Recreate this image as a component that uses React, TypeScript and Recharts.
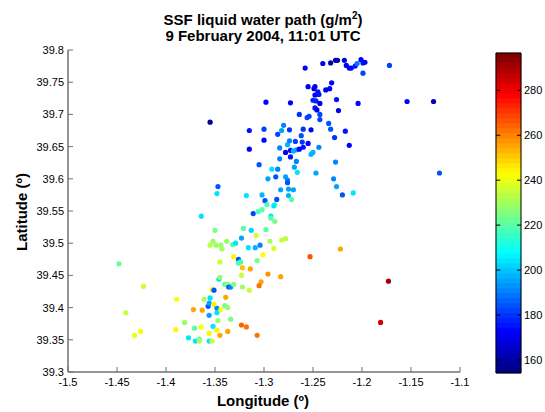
import React from 'react';
import {
  ScatterChart,
  Scatter,
  ComposedChart,
  XAxis,
  YAxis,
  ReferenceArea,
  ReferenceLine,
} from 'recharts';

// Longitude / latitude / LWP (g/m2) of each SSF footprint
const LON = [
  -1.258, -1.240, -1.232, -1.227, -1.225, -1.218, -1.216, -1.213, -1.211, -1.207,
  -1.205, -1.201, -1.199, -1.197, -1.199, -1.172, -1.255, -1.249, -1.248, -1.231,
  -1.237, -1.233, -1.248, -1.245, -1.244, -1.250, -1.247, -1.243, -1.248, -1.246,
  -1.226, -1.224, -1.204, -1.298, -1.273, -1.264, -1.256, -1.254, -1.243, -1.243,
  -1.234, -1.232, -1.280, -1.282, -1.300, -1.274, -1.260, -1.252, -1.217, -1.355,
  -1.154, -1.127, -1.121, -1.213, -1.228, -1.227, -1.229, -1.226, -1.220, -1.209,
  -1.247, -1.244, -1.252, -1.250,
  -1.315, -1.286, -1.262, -1.300, -1.315, -1.284, -1.276, -1.274, -1.268, -1.261,
  -1.260, -1.255, -1.273, -1.270, -1.267, -1.264, -1.278, -1.273, -1.284, -1.267,
  -1.305, -1.292, -1.286, -1.269, -1.266, -1.296, -1.288, -1.278, -1.276, -1.276,
  -1.347, -1.348, -1.318, -1.302, -1.283, -1.275, -1.270, -1.287, -1.299, -1.275,
  -1.272,
  -1.311, -1.306, -1.302, -1.297, -1.289, -1.290, -1.293, -1.293, -1.289, -1.364,
  -1.350, -1.321, -1.313, -1.298, -1.323, -1.308, -1.294, -1.282, -1.278, -1.352,
  -1.355, -1.349, -1.344, -1.343, -1.338, -1.332, -1.329, -1.316, -1.309, -1.304,
  -1.290, -1.301, -1.331, -1.326, -1.326, -1.324, -1.345, -1.307, -1.322, -1.314,
  -1.296, -1.323, -1.253, -1.283, -1.303, -1.305, -1.222, -1.173, -1.181,
  -1.448, -1.423, -1.441, -1.432, -1.426, -1.389, -1.390, -1.381, -1.377, -1.370,
  -1.366, -1.366, -1.356, -1.353, -1.371, -1.364, -1.356, -1.352, -1.348, -1.345,
  -1.347, -1.356, -1.372, -1.363, -1.361, -1.355, -1.353, -1.351, -1.357, -1.356,
  -1.351, -1.348, -1.348, -1.344, -1.340, -1.337, -1.339, -1.334, -1.337, -1.323,
  -1.318, -1.307, -1.346, -1.345, -1.340, -1.337, -1.336, -1.334, -1.331, -1.322,
  -1.315,
];

const LAT = [
  39.772, 39.779, 39.780, 39.784, 39.784, 39.784, 39.776, 39.772, 39.772, 39.775,
  39.779, 39.785, 39.780, 39.781, 39.764, 39.776, 39.743, 39.740, 39.743, 39.749,
  39.738, 39.740, 39.730, 39.735, 39.731, 39.722, 39.721, 39.717, 39.710, 39.707,
  39.723, 39.706, 39.717, 39.719, 39.718, 39.700, 39.695, 39.697, 39.700, 39.692,
  39.686, 39.677, 39.683, 39.675, 39.677, 39.676, 39.677, 39.676, 39.674, 39.688,
  39.720, 39.720, 39.609, 39.652, 39.664, 39.626, 39.600, 39.588, 39.575, 39.578,
  39.609, 39.649, 39.638, 39.641,
  39.675, 39.669, 39.667, 39.660, 39.646, 39.648, 39.653, 39.659, 39.658, 39.657,
  39.649, 39.655, 39.644, 39.643, 39.645, 39.646, 39.641, 39.634, 39.631, 39.627,
  39.622, 39.615, 39.615, 39.618, 39.610, 39.600, 39.603, 39.603, 39.598, 39.594,
  39.588, 39.577, 39.574, 39.575, 39.583, 39.584, 39.583, 39.568, 39.566, 39.574,
  39.568,
  39.546, 39.549, 39.552, 39.560, 39.560, 39.558, 39.542, 39.539, 39.534, 39.542,
  39.520, 39.523, 39.520, 39.521, 39.508, 39.512, 39.503, 39.505, 39.507, 39.503,
  39.497, 39.497, 39.497, 39.491, 39.503, 39.498, 39.500, 39.493, 39.493, 39.497,
  39.492, 39.482, 39.479, 39.475, 39.469, 39.471, 39.471, 39.473, 39.462, 39.460,
  39.452, 39.450, 39.479, 39.448, 39.440, 39.434, 39.491, 39.441, 39.377,
  39.468, 39.433, 39.392, 39.357, 39.363, 39.413, 39.366, 39.377, 39.353, 39.348,
  39.351, 39.348, 39.348, 39.348, 39.368, 39.370, 39.360, 39.371, 39.365, 39.357,
  39.380, 39.388, 39.397, 39.396, 39.413, 39.415, 39.428, 39.427, 39.402, 39.407,
  39.405, 39.399, 39.392, 39.397, 39.403, 39.400, 39.416, 39.382, 39.363, 39.373,
  39.370, 39.357, 39.444, 39.447, 39.436, 39.436, 39.432, 39.432, 39.436, 39.432,
  39.427,
];

const LWP = [
  170, 170, 162, 162, 163, 168, 172, 172, 172, 175,
  188, 172, 175, 172, 182, 182, 170, 165, 170, 172,
  170, 172, 172, 175, 175, 178, 178, 168, 175, 170,
  175, 170, 172, 172, 172, 180, 182, 182, 182, 182,
  185, 185, 190, 195, 182, 180, 180, 172, 175, 160,
  172, 165, 185, 172, 180, 190, 192, 195, 185, 205,
  195, 192, 198, 198,
  175, 182, 185, 172, 170, 190, 198, 192, 182, 180,
  175, 172, 175, 198, 195, 172, 170, 175, 190, 192,
  185, 205, 192, 195, 205, 195, 185, 195, 192, 185,
  185, 205, 205, 198, 195, 195, 195, 185, 185, 198,
  218,
  182, 218, 220, 218, 218, 205, 205, 220, 225, 205,
  225, 220, 202, 220, 195, 238, 232, 235, 233, 228,
  233, 228, 228, 232, 228, 220, 205, 205, 198, 190,
  237, 243, 245, 185, 218, 218, 235, 225, 250, 255,
  258, 235, 267, 255, 255, 262, 255, 292, 284,
  222, 235, 235, 240, 242, 243, 245, 228, 205, 205,
  222, 232, 205, 235, 220, 243, 245, 205, 245, 255,
  228, 195, 255, 255, 230, 205, 245, 185, 185, 195,
  245, 190, 205, 243, 225, 228, 255, 225, 255, 265,
  262, 262, 205, 228, 220, 228, 185, 190, 225, 228,
  235,
];

const X_TICKS = [-1.5, -1.45, -1.4, -1.35, -1.3, -1.25, -1.2, -1.15, -1.1];
const Y_TICKS = [39.3, 39.35, 39.4, 39.45, 39.5, 39.55, 39.6, 39.65, 39.7, 39.75, 39.8];
const CBAR_TICKS = [160, 180, 200, 220, 240, 260, 280];
const CMIN = 154.2;
const CMAX = 296.6;
const NCOLORS = 64;

const FONT = '"Liberation Sans", Arial, Helvetica, sans-serif';
const AXIS = '#707070';

// MATLAB jet colormap, quantized to 64 levels
function jetIndex(i: number) {
  const t = i / (NCOLORS - 1);
  const c = (x: number) => Math.round(255 * Math.min(1, Math.max(0, 1.5 - Math.abs(x))));
  return `rgb(${c(4 * t - 3)},${c(4 * t - 2)},${c(4 * t - 1)})`;
}

function jet(v: number) {
  const t = (v - CMIN) / (CMAX - CMIN);
  const i = Math.min(NCOLORS - 1, Math.max(0, Math.floor(t * NCOLORS)));
  return jetIndex(i);
}

const points = LON.map((x, i) => ({ x, y: LAT[i], v: LWP[i] }));

const step = (CMAX - CMIN) / NCOLORS;
const bands = Array.from({ length: NCOLORS }, (_, i) => ({
  y1: CMIN + i * step,
  y2: CMIN + (i + 1) * step,
  fill: jetIndex(i),
}));

const fmt = (v: number) => String(Number(v.toFixed(2)));

const XTick = (props: any) => {
  const { x, y, payload } = props;
  return (
    <g>
      <line x1={x} y1={y} x2={x} y2={y - 5} stroke={AXIS} />
      <text x={x} y={y + 14} textAnchor="middle" fontSize={11} fontFamily={FONT} fill="#000">
        {fmt(payload.value)}
      </text>
    </g>
  );
};

const YTick = (props: any) => {
  const { x, y, payload } = props;
  return (
    <g>
      <line x1={x} y1={y} x2={x + 5} y2={y} stroke={AXIS} />
      <text x={x - 4} y={y + 4} textAnchor="end" fontSize={11} fontFamily={FONT} fill="#000">
        {fmt(payload.value)}
      </text>
    </g>
  );
};

const CbarTick = (props: any) => {
  const { x, y, payload } = props;
  return (
    <g>
      <line x1={x} y1={y} x2={x - 4} y2={y} stroke="#000" />
      <text x={x + 3} y={y + 4} textAnchor="start" fontSize={11} fontFamily={FONT} fill="#000">
        {payload.value}
      </text>
    </g>
  );
};

const Dot = (props: any) => {
  const { cx, cy, payload } = props;
  return <circle cx={cx} cy={cy} r={2.6} fill={jet(payload.v)} />;
};

export default function App() {
  return (
    <div style={{ position: 'absolute', left: 0, top: 0, width: 545, height: 412, background: '#fff' }}>
      <div style={{ position: 'absolute', left: 0, top: 0 }}>
        <ScatterChart width={545} height={412} margin={{ top: 50, right: 85, bottom: 0, left: 0 }}>
          <XAxis
            type="number"
            dataKey="x"
            domain={[-1.5, -1.1]}
            ticks={X_TICKS}
            interval={0}
            height={40}
            tickSize={0}
            tickMargin={0}
            tickLine={false}
            tick={<XTick />}
            axisLine={{ stroke: AXIS, strokeWidth: 1.5 }}
            allowDataOverflow
          />
          <YAxis
            type="number"
            dataKey="y"
            domain={[39.3, 39.8]}
            ticks={Y_TICKS}
            interval={0}
            width={68}
            tickSize={0}
            tickMargin={0}
            tickLine={false}
            tick={<YTick />}
            axisLine={{ stroke: AXIS, strokeWidth: 1.5 }}
            allowDataOverflow
          />
          <Scatter data={points} shape={<Dot />} isAnimationActive={false} />
        </ScatterChart>
      </div>

      {/* colorbar */}
      <div style={{ position: 'absolute', left: 469, top: 0 }}>
        <ComposedChart
          width={76}
          height={412}
          data={[{ x: 0, y: CMIN }, { x: 1, y: CMAX }]}
          margin={{ top: 53, right: 0, bottom: 39, left: 27 }}
        >
          <XAxis type="number" dataKey="x" domain={[0, 1]} hide />
          <YAxis
            type="number"
            dataKey="y"
            orientation="right"
            domain={[CMIN, CMAX]}
            ticks={CBAR_TICKS}
            interval={0}
            width={24}
            tickSize={0}
            tickMargin={0}
            tickLine={false}
            axisLine={false}
            tick={<CbarTick />}
            allowDataOverflow
          />
          {bands.map((b, i) => (
            <ReferenceArea
              key={i}
              x1={0}
              x2={1}
              y1={b.y1}
              y2={b.y2}
              fill={b.fill}
              fillOpacity={1}
              stroke={b.fill}
              strokeWidth={0.5}
              ifOverflow="visible"
            />
          ))}
          <ReferenceArea x1={0} x2={1} y1={CMIN} y2={CMAX} fill="none" stroke="#000" strokeWidth={1} ifOverflow="visible" />
          {CBAR_TICKS.map((t) => (
            <ReferenceLine key={t} segment={[{ x: 0, y: t }, { x: 0.17, y: t }]} stroke="#000" ifOverflow="visible" />
          ))}
        </ComposedChart>
      </div>

      {/* titles */}
      <svg width={545} height={412} style={{ position: 'absolute', left: 0, top: 0, pointerEvents: 'none' }}>
        <text x={263} y={25} textAnchor="middle" fontFamily={FONT} fontSize={15} fontWeight="bold">
          SSF liquid water path (g/m
          <tspan dy={-6} fontSize={10}>2</tspan>
          <tspan dy={6}>)</tspan>
        </text>
        <text x={263} y={41} textAnchor="middle" fontFamily={FONT} fontSize={15} fontWeight="bold">
          9 February 2004, 11:01 UTC
        </text>
        <text x={263} y={406} textAnchor="middle" fontFamily={FONT} fontSize={15} fontWeight="bold">
          Longitude (º)
        </text>
        <text
          x={0}
          y={0}
          transform="translate(27,212) rotate(-90)"
          textAnchor="middle"
          fontFamily={FONT}
          fontSize={15}
          fontWeight="bold"
        >
          Latitude (º)
        </text>
      </svg>
    </div>
  );
}
